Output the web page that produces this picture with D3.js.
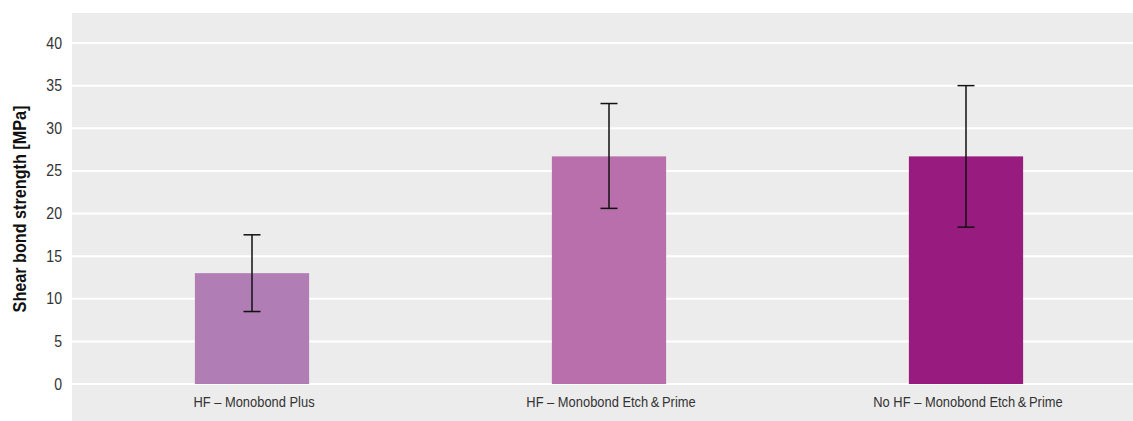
<!DOCTYPE html>
<html>
<head>
<meta charset="utf-8">
<script src="https://cdn.jsdelivr.net/npm/d3@7"></script>
<style>
  html, body { margin: 0; padding: 0; background: #ffffff; }
  svg { display: block; }
</style>
</head>
<body>
<svg id="chart" width="1133" height="421"></svg>
<script>
const categories = ["HF \u2013 Monobond Plus", "HF \u2013 Monobond Etch\u2009&\u2009Prime", "No HF \u2013 Monobond Etch\u2009&\u2009Prime"];
const values = [13.0, 26.7, 26.7];
const errLow = [8.5, 20.6, 18.4];
const errHigh = [17.5, 32.9, 35.0];
const barColors = ["#b07db4", "#b96fab", "#981c80"];
const yTicks = [0, 5, 10, 15, 20, 25, 30, 35, 40];
const yLabel = "Shear bond strength [MPa]";

const panel = { left: 72, top: 13, right: 1133, bottom: 421 };
const svg = d3.select("#chart");
const fontFam = "'Liberation Sans Narrow', 'Arial Narrow', 'Liberation Sans', sans-serif";

const y = d3.scaleLinear().domain([0, 40]).range([384, 43]);
const x = d3.scaleBand().domain(categories).range([73.5, 1144.5]).paddingInner(0.68).paddingOuter(0.34);

svg.append("rect")
  .attr("x", panel.left).attr("y", panel.top)
  .attr("width", panel.right - panel.left).attr("height", panel.bottom - panel.top)
  .attr("fill", "#ececec");

// gridlines
svg.append("g").selectAll("line").data(yTicks).join("line")
  .attr("x1", panel.left).attr("x2", panel.right)
  .attr("y1", d => y(d)).attr("y2", d => y(d))
  .attr("stroke", "#ffffff").attr("stroke-width", 2);

// y tick labels (slightly condensed)
svg.append("g").selectAll("text").data(yTicks).join("text")
  .attr("transform", d => `translate(62, ${y(d)}) scale(0.88, 1)`)
  .attr("dy", "0.35em")
  .attr("text-anchor", "end")
  .attr("font-family", fontFam)
  .attr("font-size", 16)
  .attr("fill", "#333333")
  .text(d => d);

// y axis label
svg.append("text")
  .attr("transform", `translate(25.5, ${(y(0) + y(40)) / 2 - 4.5}) rotate(-90) scale(0.9, 1)`)
  .attr("text-anchor", "middle")
  .attr("font-family", fontFam)
  .attr("font-weight", "bold")
  .attr("font-size", 18)
  .attr("fill", "#111111")
  .text(yLabel);

// bars
svg.append("g").selectAll("rect").data(categories).join("rect")
  .attr("x", d => x(d))
  .attr("width", x.bandwidth())
  .attr("y", (d, i) => y(values[i]))
  .attr("height", (d, i) => y(0) - y(values[i]))
  .attr("fill", (d, i) => barColors[i]);

// error bars
const eb = svg.append("g").attr("stroke", "#111111").attr("stroke-width", 1.5);
categories.forEach((c, i) => {
  const cx = x(c) + x.bandwidth() / 2;
  eb.append("line").attr("x1", cx).attr("x2", cx).attr("y1", y(errLow[i])).attr("y2", y(errHigh[i]));
  eb.append("line").attr("x1", cx - 8.5).attr("x2", cx + 8.5).attr("y1", y(errLow[i])).attr("y2", y(errLow[i]));
  eb.append("line").attr("x1", cx - 8.5).attr("x2", cx + 8.5).attr("y1", y(errHigh[i])).attr("y2", y(errHigh[i]));
});

// category labels (slightly condensed)
svg.append("g").selectAll("text").data(categories).join("text")
  .attr("transform", d => `translate(${x(d) + x.bandwidth() / 2 + 2}, 402) scale(0.89, 1)`)
  .attr("dy", "0.35em")
  .attr("text-anchor", "middle")
  .attr("font-family", fontFam)
  .attr("font-size", 14.5)
  .attr("fill", "#333333")
  .text(d => d);
</script>
</body>
</html>
